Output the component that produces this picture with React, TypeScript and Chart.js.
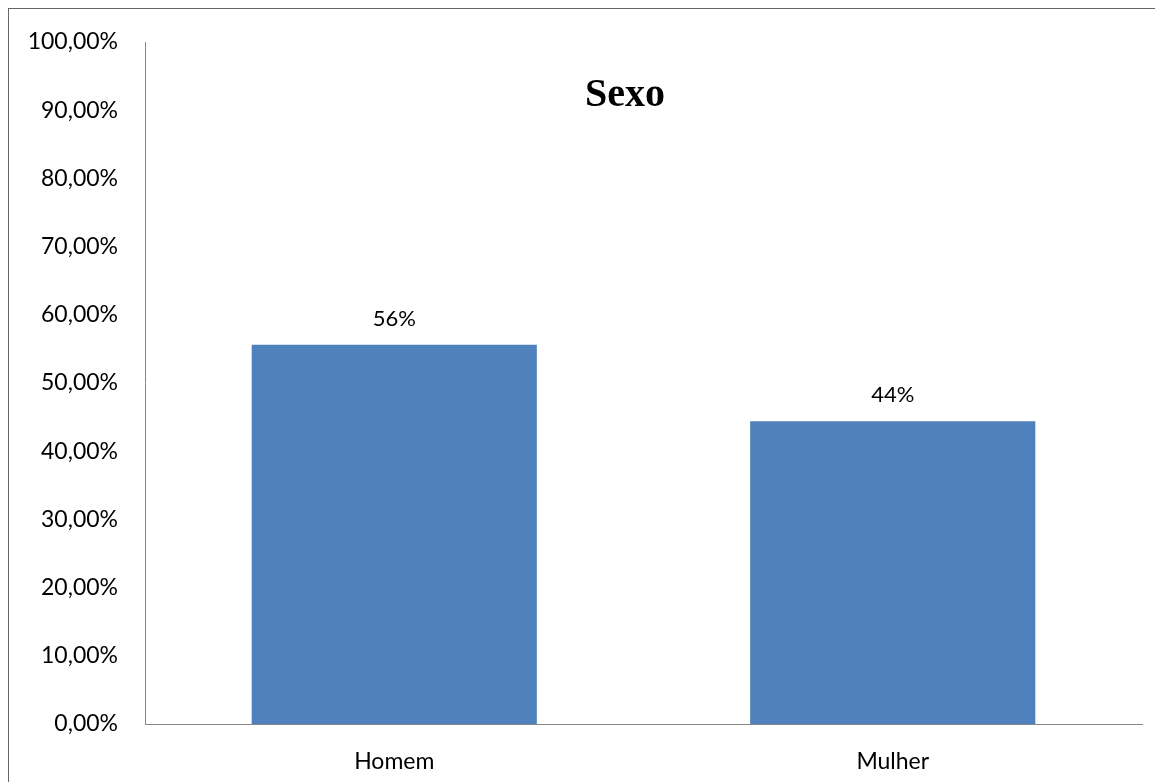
import React, { useEffect, useRef } from "react";
import { Chart, registerables } from "chart.js";

Chart.register(...registerables);

const categories = ["Homem", "Mulher"];
const values = [55.6, 44.4];
const valueLabels = ["56%", "44%"];
const titleText = "Sexo";
const yMin = 0;
const yMax = 100;
const yStep = 10;

const BAR_COLOR = "#4F81BD";
const AXIS_COLOR = "#868686";
const FONT = "Lato, 'Noto Sans', sans-serif";

const overlayPlugin = {
  id: "overlay",
  afterDatasetsDraw(chart: any) {
    const { ctx, chartArea } = chart;
    const meta = chart.getDatasetMeta(0);
    ctx.save();
    ctx.fillStyle = "#000";
    ctx.font = `22px ${FONT}`;
    ctx.textAlign = "center";
    ctx.textBaseline = "middle";
    meta.data.forEach((bar: any, i: number) => {
      ctx.fillText(valueLabels[i], bar.x, bar.y - 26);
    });
    ctx.font = `bold 40px 'Liberation Serif', 'Times New Roman', serif`;
    ctx.fillText(titleText, chartArea.left + 480, chartArea.top + 54);
    ctx.restore();
  },
};

export default function App() {
  const ref = useRef<HTMLCanvasElement | null>(null);
  useEffect(() => {
    document.body.style.margin = "0";
    document.body.style.overflow = "hidden";
    const chart = new Chart(ref.current as HTMLCanvasElement, {
      type: "bar",
      data: {
        labels: categories,
        datasets: [
          {
            data: values,
            backgroundColor: BAR_COLOR,
            borderWidth: 0,
            barPercentage: 0.572,
            categoryPercentage: 1,
          },
        ],
      },
      options: {
        animation: false,
        responsive: false,
        maintainAspectRatio: false,
        layout: { padding: { top: 33, right: 13, left: 0, bottom: 0 } },
        plugins: {
          legend: { display: false },
          title: { display: false },
          tooltip: { enabled: false },
        },
        scales: {
          x: {
            grid: { display: false, drawTicks: false },
            border: { display: true, color: AXIS_COLOR, width: 1 },
            ticks: { color: "#000", font: { family: FONT, size: 23 }, padding: 24 },
            afterFit(scale: any) {
              scale.height = 58;
              scale.paddingLeft = 0;
              scale.paddingRight = 0;
            },
          },
          y: {
            min: yMin,
            max: yMax,
            grid: { display: false, drawTicks: false },
            border: { display: true, color: AXIS_COLOR, width: 1 },
            ticks: {
              stepSize: yStep,
              color: "#000",
              font: { family: FONT, size: 23 },
              padding: 27,
              callback: (v: any) => Number(v).toFixed(2).replace(".", ",") + "%",
            },
            afterFit(scale: any) {
              scale.width = 136;
              scale.paddingTop = 0;
              scale.paddingBottom = 0;
            },
          },
        },
      },
      plugins: [overlayPlugin],
    });
    return () => chart.destroy();
  }, []);
  return (
    <div
      style={{
        position: "fixed",
        left: 8,
        top: 8,
        width: 1147,
        height: 774,
        borderTop: "1px solid #666",
        borderLeft: "1px solid #666",
        background: "#fff",
      }}
    >
      <canvas ref={ref} width={1146} height={773} style={{ display: "block" }} />
    </div>
  );
}
